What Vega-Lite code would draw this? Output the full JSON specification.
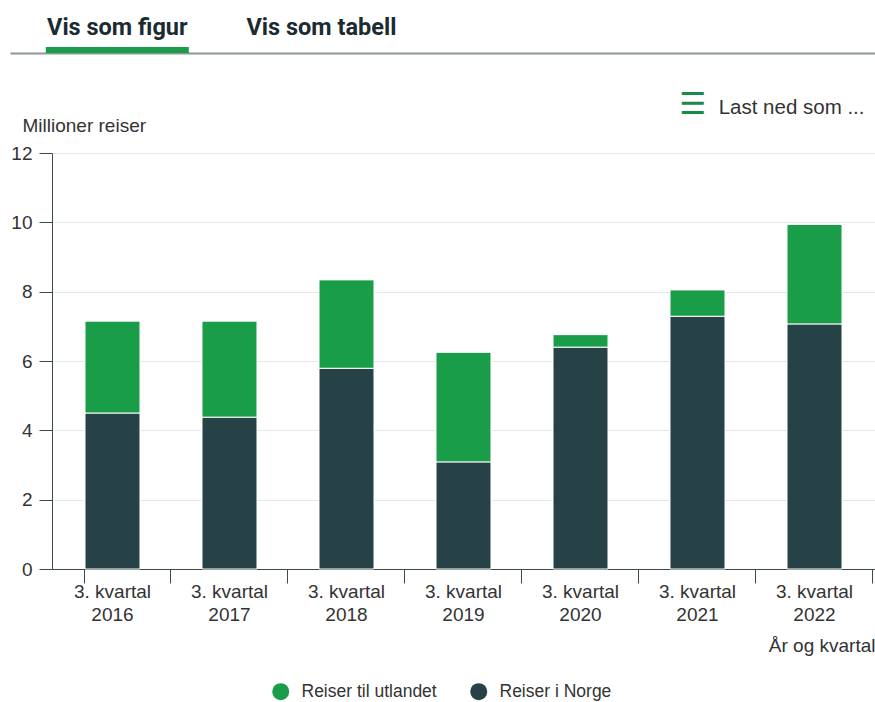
{
  "$schema": "https://vega.github.io/schema/vega-lite/v6.json",
  "background": "white",
  "padding": {"left": 10, "top": 5, "right": 0, "bottom": 0},
  "spacing": -3,
  "config": {
    "view": {"stroke": null},
    "font": "Liberation Sans"
  },
  "vconcat": [
    {
      "width": 823,
      "height": 48,
      "data": {"values": [
        {"fane": "Vis som figur", "nr": 1, "valgt": true},
        {"fane": "Vis som tabell", "nr": 2, "valgt": false}
      ]},
      "encoding": {
        "x": {
          "field": "nr", "type": "quantitative",
          "scale": {"domain": [0.4988, 4.6876], "range": [-42, 823], "nice": false, "zero": false},
          "axis": {
            "orient": "bottom", "domain": true, "domainColor": "#8d9799", "domainWidth": 2, "labels": false, "ticks": false, "grid": false,
            "title": "Last ned som ...", "titleX": 812, "titleY": 54.5, "titleAlign": "right", "titleBaseline": "middle", "titleAnchor": null,
            "titleFont": "Liberation Sans", "titleFontSize": 20.5, "titleFontWeight": "normal", "titleColor": "#333333"
          }
        }
      },
      "layer": [
        {
          "transform": [{"filter": "datum.valgt"}],
          "mark": {"type": "bar", "width": 143, "color": "#1a9d49"},
          "encoding": {
            "y": {
              "datum": 0, "type": "quantitative", "scale": {"domain": [0, 10]},
              "axis": {
                "orient": "right", "domain": false, "labels": false, "ticks": false, "grid": false,
                "title": "☰", "titleAngle": 0, "titleX": -182.5, "titleY": 99, "titleAlign": "center", "titleBaseline": "middle",
                "titleFont": "DejaVu Sans", "titleFontSize": 30, "titleFontWeight": "bold", "titleColor": "#1a8a47"
              }
            },
            "y2": {"datum": 1.25}
          }
        },
        {
          "mark": {"type": "text", "font": "Roboto", "fontWeight": "bold", "fontSize": 23.5, "color": "#1c2a31", "baseline": "middle", "dy": -1},
          "encoding": {"text": {"field": "fane"}}
        }
      ]
    },
    {
      "width": 823,
      "height": 416,
      "data": {"values": [
        {"periode": "3. kvartal 2016", "type": "Reiser i Norge", "verdi": 4.50},
        {"periode": "3. kvartal 2016", "type": "Reiser til utlandet", "verdi": 2.65},
        {"periode": "3. kvartal 2017", "type": "Reiser i Norge", "verdi": 4.38},
        {"periode": "3. kvartal 2017", "type": "Reiser til utlandet", "verdi": 2.77},
        {"periode": "3. kvartal 2018", "type": "Reiser i Norge", "verdi": 5.79},
        {"periode": "3. kvartal 2018", "type": "Reiser til utlandet", "verdi": 2.55},
        {"periode": "3. kvartal 2019", "type": "Reiser i Norge", "verdi": 3.09},
        {"periode": "3. kvartal 2019", "type": "Reiser til utlandet", "verdi": 3.16},
        {"periode": "3. kvartal 2020", "type": "Reiser i Norge", "verdi": 6.40},
        {"periode": "3. kvartal 2020", "type": "Reiser til utlandet", "verdi": 0.36},
        {"periode": "3. kvartal 2021", "type": "Reiser i Norge", "verdi": 7.29},
        {"periode": "3. kvartal 2021", "type": "Reiser til utlandet", "verdi": 0.76},
        {"periode": "3. kvartal 2022", "type": "Reiser i Norge", "verdi": 7.07},
        {"periode": "3. kvartal 2022", "type": "Reiser til utlandet", "verdi": 2.87}
      ]},
      "mark": {"type": "bar", "stroke": "white", "strokeWidth": 1},
      "encoding": {
        "x": {
          "field": "periode", "type": "nominal", "sort": null,
          "scale": {"paddingInner": 0.53, "paddingOuter": 0.282},
          "axis": {
            "title": "År og kvartal", "titleAnchor": "end", "titleFontSize": 19, "titleFontWeight": "normal", "titleColor": "#333333", "titlePadding": 12,
            "labelExpr": "[slice(datum.label, 0, 10), slice(datum.label, 11)]",
            "labelAngle": 0, "labelFontSize": 19, "labelLineHeight": 23, "labelPadding": -1, "labelColor": "#333333",
            "bandPosition": 1.5636, "tickExtra": true, "tickSize": 14, "tickColor": "#3a4a4f", "domainColor": "#3a4a4f"
          }
        },
        "y": {
          "field": "verdi", "type": "quantitative", "stack": "zero",
          "scale": {"domain": [0, 12]},
          "axis": {
            "values": [0, 2, 4, 6, 8, 10, 12],
            "title": "Millioner reiser", "titleAngle": 0, "titleAlign": "left", "titleBaseline": "middle", "titleX": -30, "titleY": -28,
            "titleFontSize": 19, "titleFontWeight": "normal", "titleColor": "#333333",
            "labelFontSize": 19, "labelColor": "#333333", "labelPadding": 7,
            "tickSize": 13, "tickColor": "#3a4a4f", "domainColor": "#3a4a4f",
            "grid": true, "gridColor": "#e6e6e6"
          }
        },
        "color": {
          "field": "type", "type": "nominal",
          "scale": {"domain": ["Reiser til utlandet", "Reiser i Norge"], "range": ["#1a9d49", "#274247"]},
          "legend": {
            "orient": "none", "legendX": 220, "legendY": 677.5, "direction": "horizontal", "title": null,
            "symbolType": "circle", "symbolSize": 289, "symbolStrokeWidth": 0, "symbolOpacity": 1,
            "labelFontSize": 17.5, "labelColor": "#333333", "labelOffset": 12, "columnPadding": 33
          }
        },
        "order": {"field": "type", "sort": "ascending"}
      }
    }
  ]
}
